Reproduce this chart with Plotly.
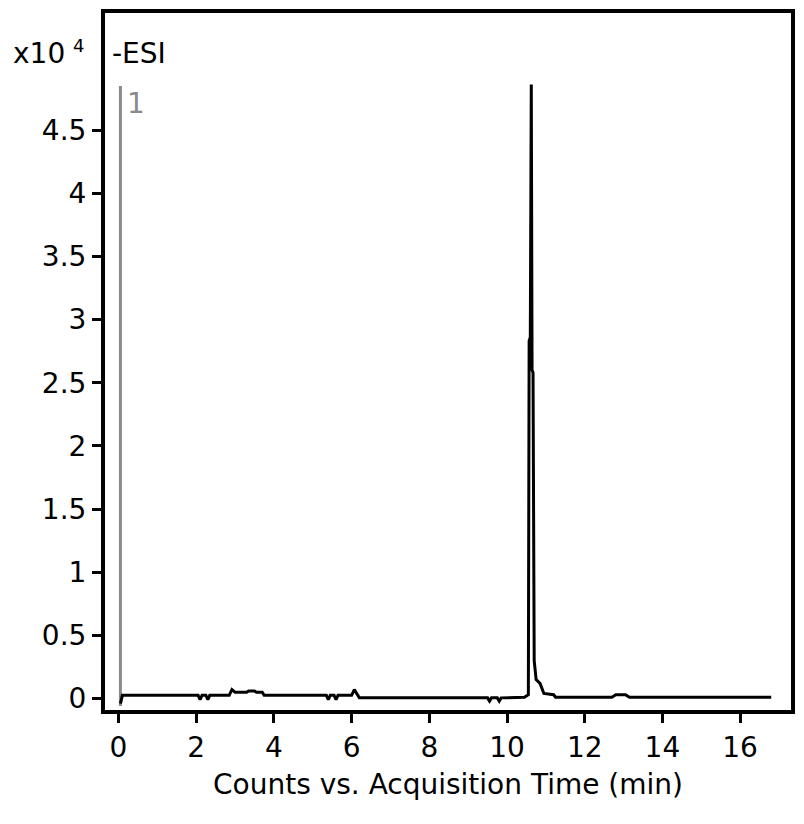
import plotly.graph_objects as go

# Retention time (min) and intensity (x10^4 counts)
time_min = [0.05, 0.1, 2.05, 2.1, 2.15, 2.25, 2.3, 2.35, 2.85, 2.92, 3.0, 3.05,
            3.3, 3.35, 3.4, 3.45, 3.5, 3.55, 3.7, 3.75, 5.35, 5.4, 5.45, 5.55,
            5.6, 5.65, 6.0, 6.07, 6.15, 6.2, 9.5, 9.55, 9.6, 9.75, 9.8, 9.85,
            10.45, 10.55, 10.57, 10.60, 10.625, 10.645, 10.67, 10.70, 10.75, 10.85, 10.95,
            11.2, 11.25, 12.7, 12.8, 13.05, 13.15, 16.8]
intensity = [-0.04, 0.025, 0.025, -0.01, 0.025, 0.025, -0.01, 0.025, 0.025, 0.07, 0.05, 0.05,
             0.05, 0.06, 0.06, 0.06, 0.06, 0.05, 0.05, 0.025, 0.025, -0.01, 0.025, 0.025,
             -0.01, 0.025, 0.025, 0.07, 0.025, 0.005, 0.005, -0.02, 0.005, 0.005, -0.02, 0.005,
             0.01, 0.03, 2.83, 2.86, 4.86, 2.60, 2.58, 0.3, 0.15, 0.12, 0.04,
             0.03, 0.01, 0.01, 0.03, 0.03, 0.01, 0.01]

marker_time = [0.05, 0.05]
marker_val = [-0.06, 4.85]

x_ticks = [0, 2, 4, 6, 8, 10, 12, 14, 16]
y_ticks = [0, 0.5, 1, 1.5, 2, 2.5, 3, 3.5, 4, 4.5]
y_tick_text = ["0", "0.5", "1", "1.5", "2", "2.5", "3", "3.5", "4", "4.5"]

FONT = "DejaVu Sans"
FS = 28

fig = go.Figure()
fig.add_trace(go.Scatter(x=marker_time, y=marker_val, mode="lines",
                         line=dict(color="#8a8a8a", width=3), hoverinfo="skip"))
fig.add_trace(go.Scatter(x=time_min, y=intensity, mode="lines",
                         line=dict(color="black", width=3, shape="linear")))

fig.update_layout(
    width=804, height=824,
    margin=dict(l=96.5, r=20.5, t=5, b=121.5, autoexpand=False),
    paper_bgcolor="white", plot_bgcolor="white",
    showlegend=False,
    font=dict(family=FONT, size=FS, color="black"),
)
fig.update_xaxes(
    range=[-0.347, 17.31], tickvals=x_ticks, ticktext=[str(v) for v in x_ticks],
    tickfont=dict(size=FS),
    showline=True, mirror=True, linewidth=4, linecolor="black",
    ticks="outside", ticklen=9, tickwidth=3, tickcolor="black",
    showgrid=False, zeroline=False, automargin=False,
    title=dict(text="Counts vs. Acquisition Time (min)", standoff=13,
               font=dict(family=FONT, size=28, color="black")),
)
fig.update_yaxes(
    range=[-0.091, 5.427], tickvals=y_ticks, ticktext=y_tick_text,
    tickfont=dict(size=FS),
    showline=True, mirror=True, linewidth=4, linecolor="black",
    ticks="outside", ticklen=9, tickwidth=3, tickcolor="black",
    showgrid=False, zeroline=False, automargin=False,
)

fig.add_annotation(xref="paper", yref="paper", x=-0.137, y=0.942, xanchor="left", yanchor="middle",
                   text="x10", showarrow=False)
fig.add_annotation(xref="paper", yref="paper", x=-0.049, y=0.953, xanchor="left", yanchor="middle",
                   text="4", showarrow=False, font=dict(size=18))
fig.add_annotation(xref="paper", yref="paper", x=0.008, y=0.942, xanchor="left", yanchor="middle",
                   text="-ESI", showarrow=False)
fig.add_annotation(x=0.17, y=4.71, xref="x", yref="y", xanchor="left", yanchor="middle",
                   text="1", showarrow=False, font=dict(color="#8a8a8a"))

fig.write_html("out.html")
